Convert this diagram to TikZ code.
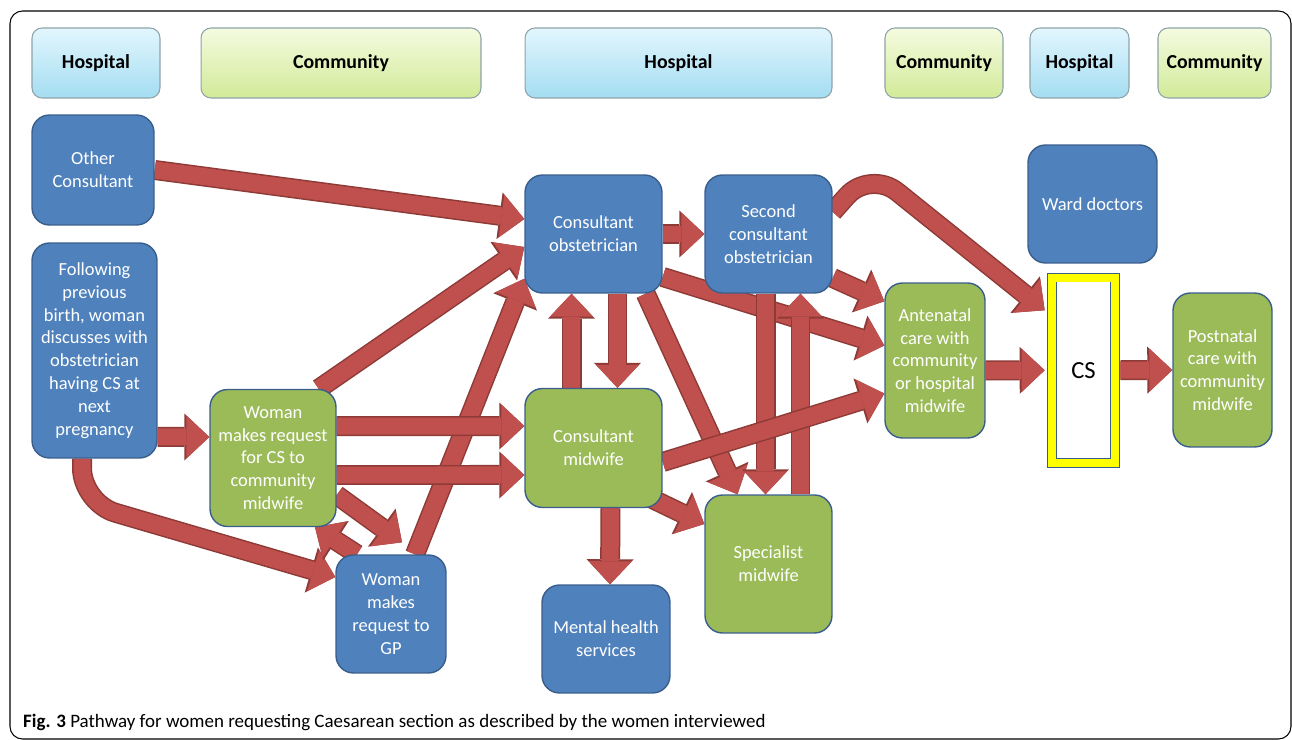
\documentclass[tikz,border=0pt]{standalone}
\usepackage{fontspec}
\setmainfont{Carlito}
\usetikzlibrary{positioning,arrows.meta,backgrounds}
\definecolor{hosptop}{HTML}{E2F6FD}
\definecolor{hospbot}{HTML}{A4DDF2}
\definecolor{commtop}{HTML}{F5FBE0}
\definecolor{commbot}{HTML}{D2EA98}
\definecolor{headline}{HTML}{8EA3A8}
\definecolor{boxblue}{HTML}{4F81BD}
\definecolor{boxgreen}{HTML}{9BBB59}
\definecolor{boxline}{HTML}{3A5E8C}
\definecolor{arrowred}{HTML}{C0504D}
\definecolor{arrowline}{HTML}{8E3A37}
\definecolor{csyellow}{HTML}{FFFF00}
\tikzset {
    style A/.style={
        top color=hosptop,
        bottom color=hospbot,
        draw=headline,
        semithick,
        rectangle, % Set the shape as a rectangle
        rounded corners=.2cm,
        minimum height=1.4cm,
        align=center,
        font=\bfseries\fontsize{11.3}{13}\selectfont,
    },
    style B/.style={
        style A,
        top color=commtop,
        bottom color=commbot,
    },
    style C/.style={
        fill=boxblue,
        draw=boxline,
        thick,
        text=white,
        rectangle, % Set the shape as a rectangle
        rounded corners=.35cm,
        inner sep=1pt,
        align=center,
        font=\fontsize{10.5}{13}\selectfont,
    },
    style D/.style={
        style C,
        fill=boxgreen,
    },
    style E/.style={
        fill=white,
        draw=boxline,
        double=csyellow,
        double distance=.16cm,
        rectangle,
        minimum width=1.26cm,
        minimum height=3.71cm,
        font=\fontsize{14}{16}\selectfont,
    },
    style F/.style={
        preaction={draw=arrowline, line width=.4cm,
            -{Triangle[length=.5cm,width=.94cm,line width=0pt]}},
        draw=arrowred,
        line width=.34cm,
        -{Triangle[length=.46cm,width=.86cm,line width=0pt]},
    },
}

\begin{document}
\begin{tikzpicture}
[x=0.02cm, y=-0.02cm]
\useasboundingbox (0,0) rectangle (1292,740);
\draw[rounded corners=.25cm, semithick] (10,11) rectangle (1291,739);

% top row
\node [style A, minimum width=2.56cm] (hosp1) at (96,63) {Hospital};
\node [style B, minimum width=5.6cm] (comm1) at (341,63) {Community};
\node [style A, minimum width=6.14cm] (hosp2) at (678.5,63) {Hospital};
\node [style B, minimum width=2.36cm] (comm2) at (944,63) {Community};
\node [style A, minimum width=1.98cm] (hosp3) at (1079.5,63) {Hospital};
\node [style B, minimum width=2.26cm] (comm3) at (1214.5,63) {Community};

\node [style C, minimum width=2.44cm, minimum height=2.2cm] (other) at (93,170) {Other\\Consultant};
\node [style C, minimum width=2.5cm, minimum height=4.3cm] (follow) at (94.5,350.5)
{Following\\previous\\birth, woman\\discusses with\\obstetrician\\having CS at\\next\\pregnancy};
\node [style D, minimum width=2.52cm, minimum height=2.74cm] (wreq) at (273,458)
{Woman\\makes request\\for CS to\\community\\midwife};
\node [style C, minimum width=2.2cm, minimum height=2.36cm] (wgp) at (391,614) {Woman\\makes\\request to\\GP};
\node [style C, minimum width=2.74cm, minimum height=2.36cm] (co) at (593.5,234) {Consultant\\obstetrician};
\node [style D, minimum width=2.74cm, minimum height=2.38cm] (cm) at (593.5,448) {Consultant\\midwife};
\node [style C, minimum width=2.54cm, minimum height=2.36cm] (sco) at (768.5,234) {Second\\consultant\\obstetrician};
\node [style C, minimum width=2.56cm, minimum height=2.16cm] (mh) at (606,639) {Mental health\\services};
\node [style D, minimum width=2.54cm, minimum height=2.76cm] (sm) at (768.5,564) {Specialist\\midwife};
\node [style D, minimum width=2cm, minimum height=3.1cm] (ante) at (935,360.5)
{Antenatal\\care with\\community\\or hospital\\midwife};
\node [style C, minimum width=2.58cm, minimum height=2.36cm] (ward) at (1092.5,204) {Ward doctors};
\node [style E] (cs) at (1083.5,370.25) {CS};
\node [style D, minimum width=1.98cm, minimum height=3.08cm] (post) at (1222.5,370)
{Postnatal\\care with\\community\\midwife};

\node [anchor=base west, font=\fontsize{10.8}{13}\selectfont] (caption) at (17,727)
{\textbf{Fig. 3} Pathway for women requesting Caesarean section as described by the women interviewed};

\coordinate (turn) at (82,503);
\coordinate (bend) at (870,170);

\begin{scope}[on background layer]
\draw[style F] (other.east) -- ([yshift=0.3cm]co.west);
\draw[style F] ([xshift=-0.36cm]wreq.north east) -- ([yshift=-0.26cm]co.west);
\draw[style F] ([xshift=0.48cm]wgp.north) -- ([yshift=0.3cm]co.south west);
\draw[style F] ([yshift=-1.73cm]follow.east) -- ([yshift=0.42cm]wreq.west);
\draw[style F, rounded corners=.7cm] ([xshift=-0.25cm]follow.south) -- (turn) -- ([yshift=0.74cm]wgp.west);
\draw[style F] ([yshift=0.64cm]wreq.east) -- ([yshift=0.44cm]cm.west);
\draw[style F] ([yshift=-0.34cm]wreq.east) -- ([yshift=-0.54cm]cm.west);
\draw[style F] ([yshift=-0.74cm]wreq.east) -- ([xshift=0.22cm,yshift=0.24cm]wgp.north);
\draw[style F] ([xshift=-0.68cm]wgp.north) -- ([xshift=0.84cm]wreq.south);
\draw[style F] (co.east) -- (sco.west);
\draw[style F] ([xshift=-0.44cm]cm.north) -- ([xshift=-0.44cm]co.south);
\draw[style F] ([xshift=0.48cm]co.south) -- ([xshift=0.48cm]cm.north);
\draw[style F] ([xshift=-0.34cm]co.south east) -- ([xshift=-0.62cm]sm.north);
\draw[style F] ([yshift=-0.86cm]co.east) -- ([yshift=0.3cm]ante.west);
\draw[style F] ([xshift=-0.06cm]sco.south) -- ([xshift=-0.06cm]sm.north);
\draw[style F] ([xshift=0.64cm]sm.north) -- ([xshift=0.64cm]sco.south);
\draw[style F] ([yshift=-0.88cm]sco.east) -- ([yshift=-0.38cm]ante.north west);
\draw[style F, rounded corners=.7cm] ([yshift=0.44cm]sco.east) -- (bend) -- ([xshift=-0.14cm,yshift=1.2cm]cs.west);
\draw[style F] ([yshift=-0.28cm]cm.east) -- ([yshift=-0.66cm]ante.west);
\draw[style F] ([xshift=-0.24cm,yshift=0.2cm]cm.south east) -- ([yshift=0.8cm]sm.west);
\draw[style F] ([xshift=0.34cm]cm.south) -- ([xshift=0.08cm]mh.north);
\draw[style F] ([yshift=-0.2cm]ante.east) -- ([xshift=-0.14cm]cs.west);
\draw[style F] ([xshift=0.1cm]cs.east) -- (post.west);
\end{scope}

\end{tikzpicture}
\end{document}
